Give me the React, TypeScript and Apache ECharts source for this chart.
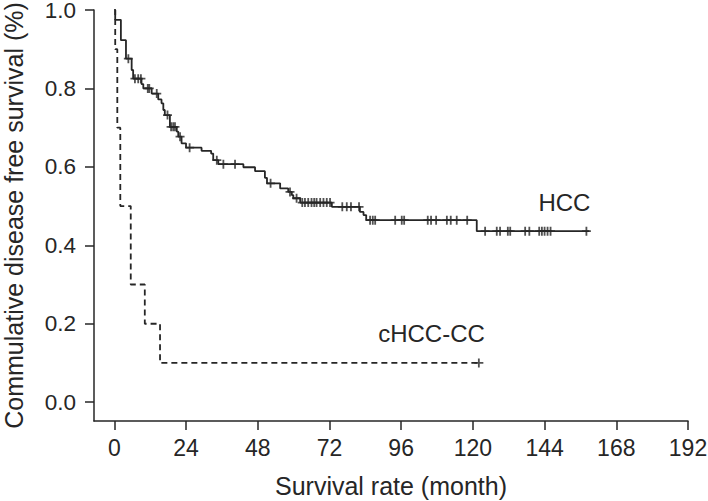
import React, { useEffect, useRef } from "react";
import * as echarts from "echarts";

// HCC Kaplan-Meier curve: event times (months) and survival after each event
const hccTimes = [0, 0.3, 2.2, 3.9, 5.8, 6.3, 9.1, 9.7, 12.5, 14.7, 15.8, 16.4, 16.9, 18.6, 20.9, 21.4, 22.5, 24.0, 29.2, 32.4, 33.1, 34.8, 43.2, 47.1, 50.4, 51.1, 55.5, 58.2, 59.4, 59.9, 62.2, 72.8, 82.2, 83.4, 84.3, 121.3, 159];
const hccSurv = [1.0, 0.975, 0.923, 0.876, 0.847, 0.825, 0.811, 0.8, 0.787, 0.772, 0.762, 0.745, 0.732, 0.702, 0.69, 0.677, 0.66, 0.649, 0.641, 0.634, 0.617, 0.607, 0.599, 0.589, 0.572, 0.558, 0.545, 0.536, 0.528, 0.52, 0.509, 0.498, 0.485, 0.477, 0.464, 0.436, 0.436];
const hccCensored = [4.7, 6.9, 8.0, 8.9, 11.2, 11.7, 14.2, 17.8, 19.0, 19.7, 20.3, 22.0, 25.2, 34.3, 36.5, 40.4, 52.3, 58.8, 61.0, 62.9, 63.8, 64.9, 66.0, 66.9, 67.7, 68.9, 70.0, 71.1, 72.2, 76.3, 77.8, 79.2, 81.9, 85.6, 86.5, 87.3, 94.0, 96.2, 97.0, 104.9, 106.0, 107.7, 111.3, 112.6, 114.6, 118.1, 124.1, 128.0, 129.1, 131.7, 132.5, 137.5, 138.9, 142.2, 143.1, 144.0, 145.0, 146.0, 158.0];

// cHCC-CC Kaplan-Meier curve
const ccTimes = [0, 0.3, 1.0, 2.0, 5.5, 10.2, 15.3, 122];
const ccSurv = [1.0, 0.9, 0.7, 0.5, 0.3, 0.2, 0.1, 0.1];
const ccCensored = [122];

const xTicks = [0, 24, 48, 72, 96, 120, 144, 168, 192];
const yTicks = [0, 0.2, 0.4, 0.6, 0.8, 1.0];

const seriesNames = ["HCC", "cHCC-CC"];
const xTitle = "Survival rate (month)";
const yTitle = "Commulative disease free survival (%)";

const INK = "#262626";
const FONT = "'Liberation Sans', Arial, Helvetica, sans-serif";
const PLUS = "path://M4,0h2v4h4v2h-4v4h-2v-4h-4v-2h4z";

function survAt(times: number[], surv: number[], t: number) {
  let s = surv[0];
  for (let i = 0; i < times.length; i++) {
    if (times[i] <= t) s = surv[i];
  }
  return s;
}

export default function App() {
  const ref = useRef<HTMLDivElement>(null);
  useEffect(() => {
    if (!ref.current) return;
    const chart = echarts.init(ref.current, undefined, { renderer: "svg" });
    const hccLine = hccTimes.map((t, i) => [t, hccSurv[i]]);
    const ccLine = ccTimes.map((t, i) => [t, ccSurv[i]]);
    const hccMarks = hccCensored.map((t) => [t, survAt(hccTimes, hccSurv, t)]);
    const ccMarks = ccCensored.map((t) => [t, survAt(ccTimes, ccSurv, t)]);
    chart.setOption({
      animation: false,
      backgroundColor: "#ffffff",
      textStyle: { fontFamily: FONT },
      grid: { left: 94, right: 20, top: 10, bottom: 80, containLabel: false, outerBoundsMode: "none" },
      xAxis: {
        type: "value",
        min: -6.8,
        max: 192,
        name: xTitle,
        nameLocation: "middle",
        nameGap: 52,
        nameTextStyle: { fontSize: 25, color: INK, fontFamily: FONT },
        axisLine: { show: true, onZero: false, lineStyle: { color: INK, width: 1.5 } },
        axisTick: { show: true, inside: false, length: 9, customValues: xTicks, lineStyle: { color: INK, width: 1.5 } },
        axisLabel: { customValues: xTicks, fontSize: 23, color: INK, margin: 15, fontFamily: FONT },
        splitLine: { show: false },
      },
      yAxis: {
        type: "value",
        min: -0.048,
        max: 1.0,
        name: yTitle,
        nameLocation: "middle",
        nameGap: 68,
        nameTextStyle: { fontSize: 25, lineHeight: 25, color: INK, fontFamily: FONT },
        axisLine: { show: true, onZero: false, lineStyle: { color: INK, width: 1.5 } },
        axisTick: { show: true, inside: false, length: 9, customValues: yTicks, lineStyle: { color: INK, width: 1.5 } },
        axisLabel: {
          customValues: yTicks,
          fontSize: 22.5,
          lineHeight: 14,
          padding: [6, 0, 0, 0],
          color: INK,
          margin: 18,
          fontFamily: FONT,
          formatter: (v: number) => v.toFixed(1),
        },
        splitLine: { show: false },
      },
      series: [
        {
          name: seriesNames[0],
          type: "line",
          step: "end",
          data: hccLine,
          showSymbol: false,
          symbol: "none",
          lineStyle: { color: INK, width: 1.8 },
          endLabel: {
            show: true,
            formatter: seriesNames[0],
            fontSize: 24,
            color: INK,
            fontFamily: FONT,
            align: "right",
            verticalAlign: "middle",
            distance: 0,
            offset: [1, -29],
          },
          silent: true,
        },
        {
          name: seriesNames[0] + " censored",
          type: "scatter",
          data: hccMarks,
          symbol: PLUS,
          symbolSize: 9,
          itemStyle: { color: INK },
          silent: true,
        },
        {
          name: seriesNames[1],
          type: "line",
          step: "end",
          data: ccLine,
          showSymbol: false,
          symbol: "none",
          lineStyle: { color: INK, width: 1.8, type: [6, 4] },
          endLabel: {
            show: true,
            formatter: seriesNames[1],
            fontSize: 24,
            color: INK,
            fontFamily: FONT,
            align: "right",
            verticalAlign: "middle",
            distance: 0,
            offset: [6, -29],
          },
          silent: true,
        },
        {
          name: seriesNames[1] + " censored",
          type: "scatter",
          data: ccMarks,
          symbol: PLUS,
          symbolSize: 9,
          itemStyle: { color: INK },
          silent: true,
        },
      ],
    });
    return () => chart.dispose();
  }, []);
  return <div ref={ref} style={{ width: 708, height: 501, position: "absolute", left: 0, top: 0 }} />;
}
